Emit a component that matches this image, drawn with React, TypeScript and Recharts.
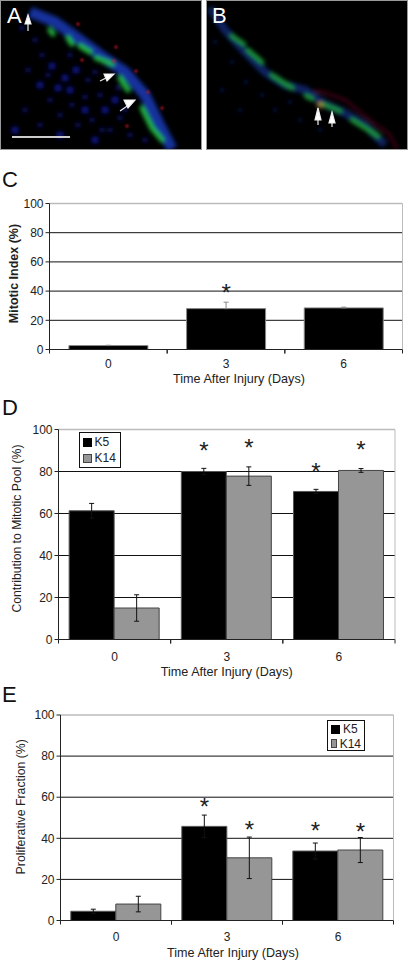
import {
  Bar,
  BarChart,
  CartesianGrid,
  ErrorBar,
  Label,
  LabelList,
  Legend,
  ReferenceLine,
  XAxis,
  YAxis,
} from "recharts";

const days = ["0", "3", "6"];
const yTicks = [0, 20, 40, 60, 80, 100];
const gridValues = [20, 40, 60, 80];
const xTitle = "Time After Injury (Days)";

const mitotic = [2.7, 28, 28.5];
const mitoticErr = [0.2, 4.4, 0.5];
const mitoticStar = [null, 41, null];

const poolK5 = [61.3, 80, 70.5];
const poolK5Err = [3.5, 1.5, 1];
const poolK5Star = [null, 91.3, 81.2];
const poolK14 = [15, 77.8, 80.5];
const poolK14Err = [6.3, 4.4, 0.9];
const poolK14Star = [null, 92.7, 91.9];

const fractionK5 = [4.5, 45.8, 33.8];
const fractionK5Err = [1, 5.5, 3.9];
const fractionK5Star = [null, 57, 45.1];
const fractionK14 = [8, 30.5, 34.3];
const fractionK14Err = [3.8, 10.1, 6.1];
const fractionK14Star = [null, 45.9, 45];

const mitoticRows = days.map((day, i) => ({
  day,
  a: mitotic[i],
  // the lower half sits hidden behind the black bar in the original
  aErr: [0, mitoticErr[i]],
  aStar: mitoticStar[i],
}));
const poolRows = days.map((day, i) => ({
  day,
  a: poolK5[i],
  aErr: poolK5Err[i],
  aStar: poolK5Star[i],
  b: poolK14[i],
  bErr: poolK14Err[i],
  bStar: poolK14Star[i],
}));
const fractionRows = days.map((day, i) => ({
  day,
  a: fractionK5[i],
  aErr: fractionK5Err[i],
  aStar: fractionK5Star[i],
  b: fractionK14[i],
  bErr: fractionK14Err[i],
  bStar: fractionK14Star[i],
}));

const FONT = "'Liberation Sans', Arial, sans-serif";
const INK = "#222";
const GREY_BAR = "#969696";

// micrograph shapes, these are pictures rather than chart data
const blueBandA = "M30 12 L55 22 L80 40 L100 55 L125 72 L145 95 L158 122 L172 149";
const greenA = [
  "M50 30 L53 34",
  "M68 38 L72 44",
  "M80 46 L90 52",
  "M96 58 L112 64",
  "M120 78 L128 90",
  "M142 108 L152 128 L162 140",
];
const redA = [[78, 24], [116, 47], [136, 71], [148, 92], [127, 126], [114, 61], [162, 108], [82, 60]];
const blueDotsA = [
  [52, 66], [42, 55], [70, 55], [65, 78], [88, 80], [85, 97], [70, 90], [50, 100], [60, 115],
  [40, 85], [28, 70], [100, 95], [105, 110], [92, 120], [78, 125], [115, 100], [125, 110], [110, 130],
  [60, 135], [40, 125], [25, 110], [15, 130], [130, 135], [145, 140], [95, 140], [35, 40], [22, 28],
  [85, 110], [120, 118], [72, 105], [58, 88], [48, 75], [95, 72], [76, 70], [102, 130], [118, 88],
];
const blueBandB = "M210 8 L225 30 L245 52 L265 72 L285 85 L305 90 L325 104 L345 113 L365 125 L385 145";
const greenB = [
  "M232 36 L244 44",
  "M248 50 L262 62",
  "M272 75 L292 88",
  "M306 96 L312 99",
  "M322 104 L340 111",
  "M352 120 L378 136",
];
const redEdgeB = "M305 92 L320 91 L345 100 L370 120 L390 135 L397 149";
const blueDotsB = [
  [215, 42], [232, 62], [246, 82], [262, 95], [275, 110], [290, 102], [300, 120], [320, 130], [240, 110],
  [222, 90],
];

function Micrograph() {
  return (
    <svg width={408} height={150} style={{ position: "absolute", left: 0, top: 0 }}>
      <defs>
        <filter id="soft" x="-20%" y="-20%" width="140%" height="140%">
          <feGaussianBlur stdDeviation="2" />
        </filter>
        <filter id="softer" x="-20%" y="-20%" width="140%" height="140%">
          <feGaussianBlur stdDeviation="0.8" />
        </filter>
        <clipPath id="clipA"><rect x={1} y={1} width={200} height={148} /></clipPath>
        <clipPath id="clipB"><rect x={207} y={1} width={200} height={148} /></clipPath>
      </defs>
      <rect x={0.5} y={0.5} width={201} height={149} fill="#000" stroke="#999" />
      <rect x={206.5} y={0.5} width={201} height={149} fill="#000" stroke="#999" />
      <g clipPath="url(#clipA)">
        <g filter="url(#soft)">
          {blueDotsA.map(([x, y], i) => (
            <circle key={i} cx={x} cy={y} r={i % 3 === 0 ? 3.5 : 2.2} fill="#0c1890" />
          ))}
          <path d={blueBandA} stroke="#14309c" strokeWidth={11} fill="none" />
          {greenA.map((d) => (
            <path key={d} d={d} stroke="#22b83a" strokeWidth={5} fill="none" strokeLinecap="round" />
          ))}
        </g>
        <g filter="url(#softer)">
          {redA.map(([x, y], i) => (
            <circle key={i} cx={x} cy={y} r={1.5} fill="#c81c28" />
          ))}
        </g>
      </g>
      <g clipPath="url(#clipB)">
        <g filter="url(#soft)">
          {blueDotsB.map(([x, y], i) => (
            <circle key={i} cx={x} cy={y} r={2} fill="#0a1258" />
          ))}
          <path d={redEdgeB} stroke="#5a1020" strokeWidth={2} fill="none" />
          <path d={blueBandB} stroke="#0e2260" strokeWidth={8} fill="none" />
          {greenB.map((d) => (
            <path key={d} d={d} stroke="#1e9638" strokeWidth={4.5} fill="none" strokeLinecap="round" />
          ))}
          <circle cx={320} cy={105} r={3} fill="#a08a3c" />
        </g>
      </g>
      <g stroke="#eee" fill="#fff" strokeWidth={1.2}>
        <path d="M28 31 L28 18" />
        <path d="M25 24 L28 15 L31 24 Z" />
        <path d="M100 81 L112 75" />
        <path d="M104 74 L114 74 L107 81 Z" />
        <path d="M120 111 L133 102" />
        <path d="M124 100 L135 100 L128 108 Z" />
        <path d="M318 125 L318 113" />
        <path d="M315 120 L318 108 L321 120 Z" />
        <path d="M332 127 L332 116" />
        <path d="M329 123 L332 112 L335 123 Z" />
      </g>
      <rect x={12} y={136} width={58} height={2} fill="#ccc" />
      <text x={7} y={23} fontFamily={FONT} fontSize={22} fill="#fff">A</text>
      <text x={212} y={23} fontFamily={FONT} fontSize={22} fill="#fff">B</text>
    </svg>
  );
}

function DayTick({ x, payload, band, axisY, tickY }: any) {
  return (
    <g>
      <line x1={x - band / 2} x2={x - band / 2} y1={axisY} y2={axisY + 4} stroke={INK} />
      <line x1={x + band / 2} x2={x + band / 2} y1={axisY} y2={axisY + 4} stroke={INK} />
      <text x={x} y={tickY} textAnchor="middle" fontFamily={FONT} fontSize={12} fill={INK}>
        {payload.value}
      </text>
    </g>
  );
}

function makeStar(plotH: number) {
  return function Star(props: any) {
    const box = props.viewBox ?? props;
    if (props.value == null) return null;
    const bottom = box.y + box.height;
    const cy = bottom - (props.value / 100) * plotH;
    return (
      <text x={box.x + box.width / 2} y={cy + 11.5} textAnchor="middle" fontFamily={FONT} fontSize={24} fill={INK}>
        *
      </text>
    );
  };
}

function KeyBox({ rowHeight }: any) {
  const row = (color: string, stroke: string, name: string) => (
    <div style={{ display: "flex", alignItems: "center", height: rowHeight }}>
      <span style={{ width: 7, height: 7, background: color, border: `1px solid ${stroke}`, marginRight: 3 }} />
      <span style={{ fontFamily: FONT, fontSize: 12, color: INK }}>{name}</span>
    </div>
  );
  return (
    <div>
      {row("#000", "#000", "K5")}
      {row(GREY_BAR, "#444", "K14")}
    </div>
  );
}

function Panel({ letter, letterTop, top, height, left, right, plotTop, plotBottom, rows, title, titleBold, titleSize, titleDx, titleDy, xDx, tickY, xTitleY, gap, keyBox, errColor, edge }: any) {
  const plotW = right - left;
  const plotH = plotBottom - plotTop;
  const Star = makeStar(plotH);
  const two = rows[0].b !== undefined;
  return (
    <div style={{ position: "absolute", left: 0, top }}>
      <div style={{ position: "absolute", left: 2, top: letterTop, fontFamily: FONT, fontSize: 22, color: "#111", lineHeight: "22px" }}>
        {letter}
      </div>
      <BarChart
        width={408}
        height={height}
        data={rows}
        barGap={0}
        barCategoryGap={gap}
        margin={{ left: 0, top: plotTop, right: 408 - right - 1, bottom: 0 }}
      >
        <CartesianGrid horizontal vertical={false} stroke="#111" horizontalValues={gridValues} />
        <ReferenceLine y={100} stroke="#bbb" strokeWidth={1.5} />
        <XAxis
          dataKey="day"
          height={height - plotBottom}
          stroke={INK}
          tickLine={false}
          interval={0}
          tick={<DayTick band={plotW / 3} axisY={plotBottom} tickY={plotBottom + tickY} />}
        >
          <Label
            content={() => (
              <text x={(left + right) / 2 + xDx} y={plotBottom + xTitleY} textAnchor="middle" fontFamily={FONT} fontSize={12.6} fill={INK}>
                {xTitle}
              </text>
            )}
          />
        </XAxis>
        <YAxis
          width={left}
          domain={[0, 100]}
          ticks={yTicks}
          interval={0}
          stroke={INK}
          tickSize={4}
          tick={{ fontFamily: FONT, fontSize: 12, fill: INK }}
        >
          <Label
            content={() => (
              <text
                transform={`translate(${titleDx} ${(plotTop + plotBottom) / 2 + titleDy}) rotate(-90)`}
                textAnchor="middle"
                fontFamily={FONT}
                fontSize={titleSize}
                fontWeight={titleBold ? 700 : 400}
                fill={INK}
              >
                {title}
              </text>
            )}
          />
        </YAxis>
        <YAxis yAxisId="frame" orientation="right" width={1} domain={[0, 100]} tick={false} tickLine={false} stroke="#bbb" />
        <Bar dataKey="a" name="K5" fill="#000" stroke={edge} isAnimationActive={false}>
          <ErrorBar dataKey="aErr" width={2.5} stroke={errColor} strokeWidth={1} direction="y" isAnimationActive={false} />
          <LabelList dataKey="aStar" content={Star} />
        </Bar>
        {two && (
          <Bar dataKey="b" name="K14" fill={GREY_BAR} stroke="#444" isAnimationActive={false}>
            <ErrorBar dataKey="bErr" width={2.5} stroke={errColor} strokeWidth={1} direction="y" isAnimationActive={false} />
            <LabelList dataKey="bStar" content={Star} />
          </Bar>
        )}
        {keyBox && (
          <Legend
            layout="vertical"
            align="center"
            verticalAlign="middle"
            content={<KeyBox rowHeight={keyBox.rowHeight} />}
            wrapperStyle={{
              left: keyBox.left,
              top: keyBox.top,
              width: keyBox.width,
              height: keyBox.height,
              background: "#fff",
              border: "1px solid #111",
              boxSizing: "border-box",
              padding: "1px 3px",
            }}
          />
        )}
      </BarChart>
    </div>
  );
}

export default function App() {
  return (
    <div style={{ position: "absolute", left: 0, top: 0, width: 408, height: 960, background: "#fff" }}>
      <Micrograph />
      <Panel
        letter="C"
        letterTop={4}
        top={165}
        height={230}
        left={49.5}
        right={402.5}
        plotTop={38.5}
        plotBottom={184.5}
        rows={mitoticRows}
        title="Mitotic Index (%)"
        titleBold
        titleSize={12.5}
        titleDx={18}
        titleDy={-3}
        xDx={13}
        tickY={18}
        xTitleY={33}
        gap="16.5%"
        errColor="#888"
        edge="#888"
      />
      <Panel
        letter="D"
        letterTop={2}
        top={395}
        height={290}
        left={58.5}
        right={395}
        plotTop={34.5}
        plotBottom={244.5}
        rows={poolRows}
        title="Contribution to Mitotic Pool (%)"
        titleSize={12.2}
        titleDx={21}
        titleDy={-6}
        xDx={0}
        tickY={21}
        xTitleY={36}
        gap="9.5%"
        keyBox={{ left: 78.5, top: 37, width: 42, height: 36, rowHeight: 16 }}
        errColor="#111"
        edge="#555"
      />
      <Panel
        letter="E"
        letterTop={4}
        top={680}
        height={280}
        left={60.5}
        right={393.5}
        plotTop={35}
        plotBottom={240.5}
        rows={fractionRows}
        title="Proliferative Fraction (%)"
        titleSize={12.3}
        titleDx={25}
        titleDy={-11}
        xDx={6}
        tickY={20}
        xTitleY={36}
        gap="9.3%"
        keyBox={{ left: 327, top: 40, width: 38, height: 31, rowHeight: 14.5 }}
        errColor="#111"
        edge="#555"
      />
    </div>
  );
}
